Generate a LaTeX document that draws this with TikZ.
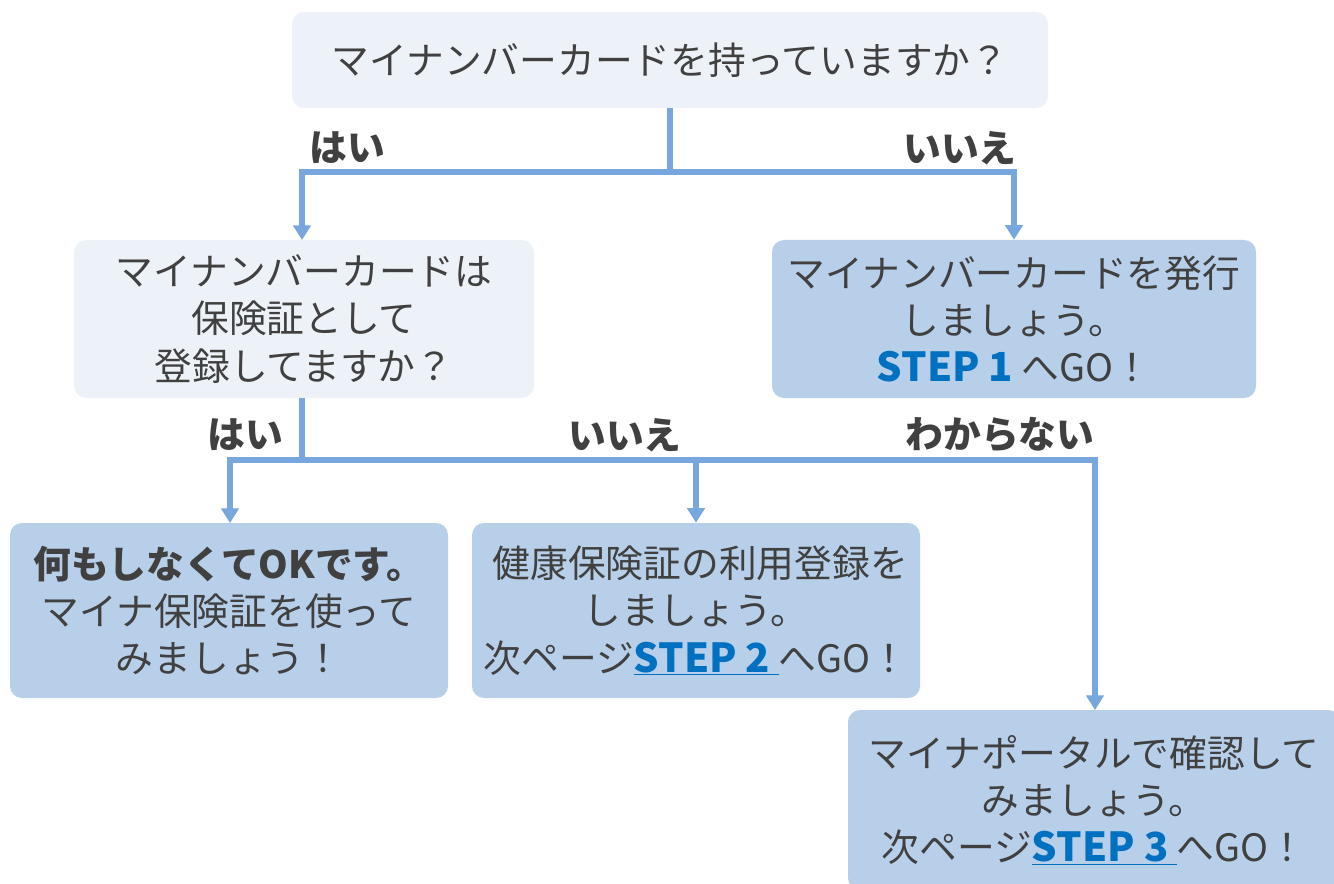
\documentclass[tikz,border=0pt]{standalone}
\usepackage{fontspec}
\setmainfont{Noto Sans CJK JP}
\usetikzlibrary{arrows.meta,shapes}
\definecolor{askfill}{HTML}{EDF1F8}
\definecolor{dofill}{HTML}{B8CFEA}
\definecolor{wire}{HTML}{77A7DC}
\definecolor{ink}{HTML}{404040}
\definecolor{stepblue}{HTML}{0070C0}
\tikzstyle{ask} = [fill=askfill, rounded corners=9pt, align=center, text=ink, font=\fontsize{28.3}{35.5}\selectfont]
\tikzstyle{todo} = [fill=dofill, rounded corners=9pt, align=center, text=ink, font=\fontsize{28.3}{35.5}\selectfont]
\tikzstyle{reply} = [text=ink, font=\fontsize{28.3}{35.5}\selectfont\bfseries]
\tikzstyle{wireline} = [draw=wire, line width=4pt]
\tikzstyle{wirearrow} = [wireline, -{Triangle[width=13pt,length=11pt]}]
\newcommand{\stepname}[1]{\textcolor{stepblue}{\fontsize{30}{35.5}\selectfont\bfseries #1}}

\begin{document}
\begin{tikzpicture}[x=0.75pt, y=-0.75pt]

  % fixed frame, same size as the reference
  \useasboundingbox (0,0) rectangle (1334,884);

    \node [ask, minimum width=567pt, minimum height=72pt] (card) at (670,60) {マイナンバーカードを持っていますか？};
    \node [ask, minimum width=345pt, minimum height=118.5pt] (hoken) at (304,319) {マイナンバーカードは\\保険証として\\登録してますか？};
    \node [todo, minimum width=363pt, minimum height=118.5pt] (hakko) at (1014,319) {マイナンバーカードを発行\\しましょう。\\\stepname{STEP 1} へGO！};
    \node [todo, minimum width=328.5pt, minimum height=131.25pt] (ok) at (229,610.5) {\textbf{何もしなくてOKです。}\\マイナ保険証を使って\\みましょう！};
    \node [todo, minimum width=336pt, minimum height=131.25pt] (toroku) at (696,610.5) {\ 健康保険証の利用登録を\\しましょう。\\次ページ\textcolor{stepblue}{\underline{\stepname{STEP 2}\ }}へGO！};
    \node [todo, minimum width=369pt, minimum height=135pt] (portal) at (1094,800) {マイナポータルで確認して\\みましょう。\\次ページ\textcolor{stepblue}{\underline{\stepname{STEP 3}\ }}へGO！};

    \coordinate (split1) at (670,172);
    \coordinate (split2) at (302,460);

% Once the boxes are placed, connecting them is easy.
    \draw [wireline] (card.south) -- (split1);
    \draw [wirearrow] (split1) -| (302,240);
    \draw [wirearrow] (split1) -| (hakko.north);
    \draw [wireline] (hoken.south -| split2) -- (split2);
    \draw [wirearrow] (split2) -| (230,523);
    \draw [wirearrow] (split2) -| (toroku.north);
    \draw [wirearrow] (split2) -| (1095,710);

    \node [reply] (yes1) at (347,148) {はい};
    \node [reply] (no1) at (960,148) {いいえ};
    \node [reply] (yes2) at (245,435) {はい};
    \node [reply] (no2) at (625,435) {いいえ};
    \node [reply] (unknown) at (1000,435) {わからない};

  \end{tikzpicture}
\end{document}
